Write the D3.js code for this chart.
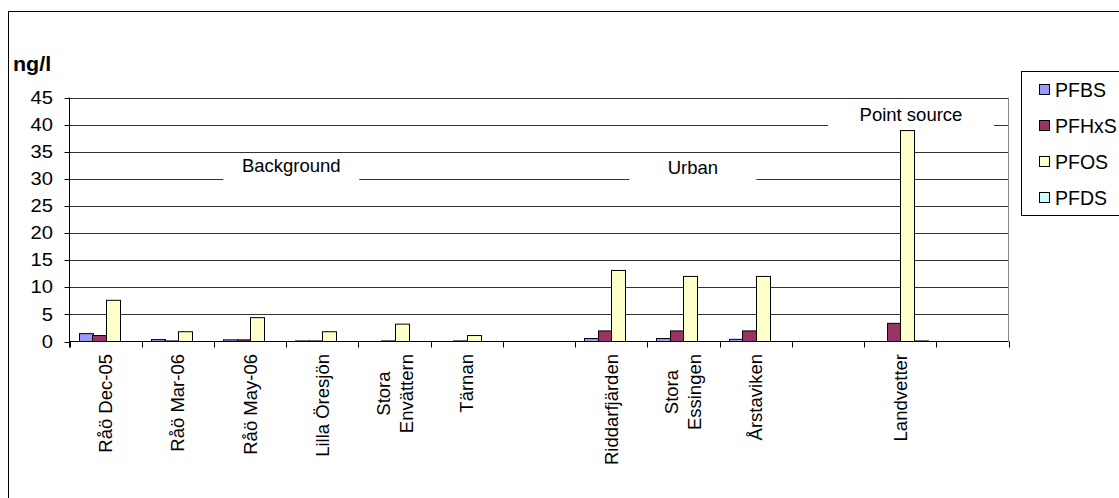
<!DOCTYPE html>
<html><head><meta charset="utf-8">
<script src="https://cdn.jsdelivr.net/npm/d3@7"></script>
<style>
html,body{margin:0;padding:0;background:#fff;}
svg text{font-family:"Liberation Sans",Arial,sans-serif;fill:#000;}
</style></head>
<body><svg id="c" width="1119" height="498"></svg>
<script>
// ---- data ----
const categories = ["Råö Dec-05","Råö Mar-06","Råö May-06","Lilla Öresjön","Stora\nEnvättern","Tärnan","","Riddarfjärden","Stora\nEssingen","Årstaviken","","Landvetter",""];
const seriesNames = ["PFBS","PFHxS","PFOS","PFDS"];
const PFBS  = [1.45,0.35,0.3,0.1,0,0,0,0.55,0.55,0.4,0,0,0];
const PFHxS = [1.1,0.1,0.3,0.1,0.1,0.1,0,1.95,1.95,1.95,0,3.35,0];
const PFOS  = [7.6,1.8,4.4,1.8,3.2,1.1,0,13.1,12,12,0,38.9,0];
const PFDS  = [0,0,0,0,0,0,0,0,0,0,0,0.1,0];
const yTicks = [0,5,10,15,20,25,30,35,40,45];
const yUnit = "ng/l";
const annotations = ["Background","Urban","Point source"];
const colors = ["#9999FF","#993366","#FFFFCC","#CCFFFF"];

// ---- layout ----
const svg = d3.select("#c");
const L = 69.5, R = 1008.5, T = 97.5, B = 341.5;
const x = d3.scaleBand().domain(d3.range(categories.length)).range([L, R]).padding(0);
const xs = d3.scaleBand().domain(seriesNames).range([0, x.bandwidth()]).paddingInner(0).paddingOuter(0.675);
const y = d3.scaleLinear().domain([0,45]).range([B, T]);
const values = [PFBS, PFHxS, PFOS, PFDS];

// outer chart border
svg.append("rect").attr("x",8.5).attr("y",11.5).attr("width",1130).attr("height",500)
  .attr("fill","none").attr("stroke","#000");

// gridlines
svg.append("g").selectAll("line").data(yTicks.filter(d=>d>0)).join("line")
  .attr("x1",L).attr("x2",R).attr("y1",d=>Math.round(y(d))+0.5).attr("y2",d=>Math.round(y(d))+0.5)
  .attr("stroke","#333").attr("stroke-width",1);
// plot area right border
svg.append("line").attr("x1",R).attr("x2",R).attr("y1",T).attr("y2",B).attr("stroke","#888");

// annotation boxes (cover gridlines)
const annPos = [
  {cx: 3.07, v: 32.4, w: 136, h: 27},
  {cx: 8.63, v: 32.0, w: 127, h: 27},
  {cx: 11.65, v: 41.8, w: 166, h: 26}
];
const stepW = x.step();
annotations.forEach((t,i)=>{
  const p = annPos[i];
  const cx = L + p.cx*stepW, cy = y(p.v);
  svg.append("rect").attr("x",cx-p.w/2).attr("y",cy-p.h/2+2).attr("width",p.w).attr("height",p.h).attr("fill","#fff");
  svg.append("text").attr("x",cx).attr("y",cy).attr("text-anchor","middle").attr("dominant-baseline","central")
    .style("font-size","18.5px").text(t);
});

// bars
const g = svg.append("g");
seriesNames.forEach((s,si)=>{
  g.append("g").selectAll("rect").data(values[si].map((v,i)=>({v,i}))).join("rect")
    .attr("x",d=>Math.round(x(d.i)+xs(s))+0.5)
    .attr("width",Math.round(xs.bandwidth()))
    .attr("y",d=>y(d.v))
    .attr("height",d=>B-y(d.v))
    .attr("fill",colors[si]).attr("stroke","#000").attr("stroke-width",1)
    .attr("display",d=>d.v>0?null:"none");
});

// y axis
const ya = svg.append("g");
ya.append("line").attr("x1",L).attr("x2",L).attr("y1",T).attr("y2",B+6).attr("stroke","#000");
ya.selectAll("line.t").data(yTicks).join("line").attr("class","t")
  .attr("x1",L-5).attr("x2",L).attr("y1",d=>Math.round(y(d))+0.5).attr("y2",d=>Math.round(y(d))+0.5).attr("stroke","#000");
ya.selectAll("text").data(yTicks).join("text")
  .attr("x",53).attr("y",d=>y(d)).attr("text-anchor","end").attr("dominant-baseline","central")
  .attr("transform",d=>`translate(53,${y(d)}) scale(1.12,1) translate(-53,${-y(d)})`)
  .style("font-size","18px").text(d=>d);

// x axis
const xa = svg.append("g");
xa.append("line").attr("x1",L).attr("x2",R).attr("y1",B).attr("y2",B).attr("stroke","#000");
xa.selectAll("line.t").data(d3.range(categories.length+1)).join("line").attr("class","t")
  .attr("x1",d=>Math.round(L+d*stepW)+0.5).attr("x2",d=>Math.round(L+d*stepW)+0.5)
  .attr("y1",B).attr("y2",B+6).attr("stroke","#000");
categories.forEach((c,i)=>{
  if(!c) return;
  const lines = c.split("\n");
  const cx = x(i)+x.bandwidth()/2;
  const t = xa.append("text").attr("transform",`translate(${cx},0) rotate(-90)`).style("font-size","18.5px");
  const tsp = lines.map((ln,k)=>t.append("tspan").attr("dominant-baseline","central")
      .attr("y",(k-(lines.length-1)/2)*23).text(ln));
  const maxLen = d3.max(tsp, s=>s.node().getComputedTextLength());
  tsp.forEach(s=>s.attr("x",-(354+maxLen/2)).attr("text-anchor","middle"));
});

// unit label
svg.append("text").attr("x",13).attr("y",71).attr("transform","translate(13,0) scale(1.1,1) translate(-13,0)")
  .style("font-size","19.5px").style("font-weight","bold").text(yUnit);

// legend
const lg = svg.append("g");
lg.append("rect").attr("x",1021.5).attr("y",71.5).attr("width",120).attr("height",144).attr("fill","#fff").attr("stroke","#000");
seriesNames.forEach((s,i)=>{
  const cy = 89.5 + i*36;
  lg.append("rect").attr("x",1039.5).attr("y",cy-5).attr("width",10).attr("height",10).attr("fill",colors[i]).attr("stroke","#000");
  lg.append("text").attr("x",1055).attr("y",cy).attr("dominant-baseline","central").style("font-size","19.5px").text(s);
});
</script></body></html>
